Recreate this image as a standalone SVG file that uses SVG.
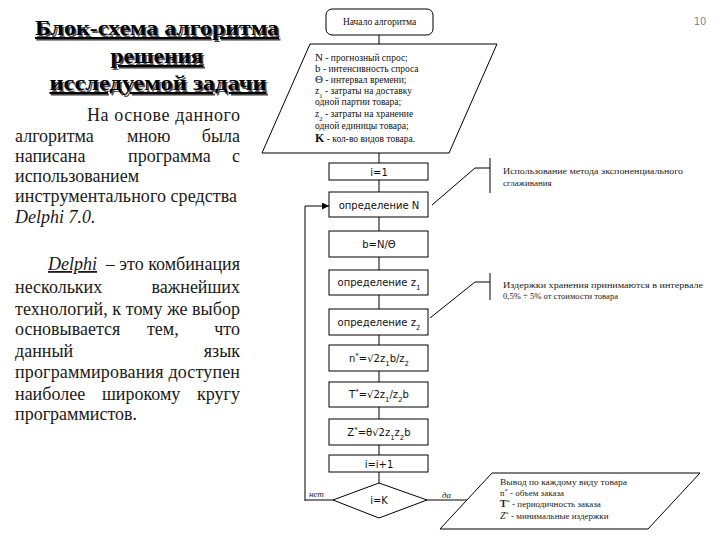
<svg xmlns="http://www.w3.org/2000/svg" width="720" height="540" viewBox="0 0 720 540">
<defs>
<marker id="arr" viewBox="0 0 10 10" refX="10" refY="5" markerWidth="7" markerHeight="7" markerUnits="userSpaceOnUse" orient="auto"><path d="M0,0 L10,5 L0,10 z" fill="#000"/></marker>
</defs>
<style>
.box{fill:#fff;stroke:#000;stroke-width:1}
.ln{fill:none;stroke:#000;stroke-width:1}
.t{font-family:'DejaVu Sans',sans-serif;font-size:10px;fill:#111;text-anchor:middle}
.s{font-size:9.5px;fill:#111}
.a{font-size:9px;fill:#222}
.body{font-size:18px;fill:#1a1a1a}
.ttl{font-size:21px;font-weight:bold;text-anchor:middle;text-decoration:underline}
.sub{font-size:70%}
</style>
<rect width="720" height="540" fill="#fff"/>

<g id="title" style="font-family:'Liberation Serif','Times New Roman',serif">
<g fill="#555" transform="translate(1.5,1.5)">
<text class="ttl" x="157" y="35" textLength="244" lengthAdjust="spacingAndGlyphs">Блок-схема алгоритма</text>
<text class="ttl" x="157" y="63" textLength="93" lengthAdjust="spacingAndGlyphs">решения</text>
<text class="ttl" x="158" y="90" textLength="217" lengthAdjust="spacingAndGlyphs">исследуемой задачи</text>
</g>
<g fill="#000">
<text class="ttl" x="157" y="35" textLength="244" lengthAdjust="spacingAndGlyphs">Блок-схема алгоритма</text>
<text class="ttl" x="157" y="63" textLength="93" lengthAdjust="spacingAndGlyphs">решения</text>
<text class="ttl" x="158" y="90" textLength="217" lengthAdjust="spacingAndGlyphs">исследуемой задачи</text>
</g>
</g>

<g id="para1" style="font-family:'Liberation Serif','Times New Roman',serif">
<text class="body" x="87" y="121" textLength="153" lengthAdjust="spacing">На основе данного</text>
<text class="body" x="15" y="142">алгоритма</text>
<text class="body" x="127" y="142">мною</text>
<text class="body" x="240" y="142" text-anchor="end">была</text>
<text class="body" x="15" y="162">написана</text>
<text class="body" x="128" y="162">программа</text>
<text class="body" x="240" y="162" text-anchor="end">с</text>
<text class="body" x="15" y="182">использованием</text>
<text class="body" x="15" y="202" textLength="222" lengthAdjust="spacing">инструментального средства</text>
<text class="body" x="15" y="223" font-style="italic">Delphi 7.0.</text>
</g>

<g id="para2" style="font-family:'Liberation Serif','Times New Roman',serif">
<text class="body" x="48" y="270" font-style="italic" text-decoration="underline">Delphi</text>
<text class="body" x="240" y="270" text-anchor="end">– это комбинация</text>
<text class="body" x="15" y="293">нескольких</text>
<text class="body" x="240" y="293" text-anchor="end">важнейших</text>
<text class="body" x="15" y="315" textLength="225" lengthAdjust="spacing">технологий, к тому же выбор</text>
<text class="body" x="15" y="335">основывается</text>
<text class="body" x="147" y="335">тем,</text>
<text class="body" x="240" y="335" text-anchor="end">что</text>
<text class="body" x="15" y="357">данный</text>
<text class="body" x="240" y="357" text-anchor="end">язык</text>
<text class="body" x="15" y="378" textLength="225" lengthAdjust="spacing">программирования доступен</text>
<text class="body" x="15" y="400">наиболее</text>
<text class="body" x="102" y="400">широкому</text>
<text class="body" x="240" y="400" text-anchor="end">кругу</text>
<text class="body" x="15" y="420">программистов.</text>
</g>

<g id="pagenum"><text x="700" y="25" font-family="'DejaVu Sans',sans-serif" font-size="10" fill="#888" text-anchor="middle">10</text></g>

<g id="connectors">
<line class="ln" x1="379" y1="35" x2="379" y2="44"/>
<line class="ln" x1="379" y1="153" x2="379" y2="163"/>
<line class="ln" x1="379" y1="180" x2="379" y2="192"/>
<line class="ln" x1="379" y1="217" x2="379" y2="231"/>
<line class="ln" x1="379" y1="257" x2="379" y2="270"/>
<line class="ln" x1="379" y1="295" x2="379" y2="309"/>
<line class="ln" x1="379" y1="335" x2="379" y2="345"/>
<line class="ln" x1="379" y1="371" x2="379" y2="382"/>
<line class="ln" x1="379" y1="407" x2="379" y2="419"/>
<line class="ln" x1="379" y1="445" x2="379" y2="455"/>
<line class="ln" x1="379" y1="472" x2="379" y2="483"/>
<path class="ln" d="M333,500 H305" stroke-width="2"/>
<path class="ln" d="M305,501 V206 H329" marker-end="url(#arr)"/>
<line class="ln" x1="427" y1="500" x2="467" y2="500"/>
<path class="ln" d="M432,205 L475,168 H490"/>
<line class="ln" x1="490" y1="158" x2="490" y2="193"/>
<path class="ln" d="M430,318 L475,282 H490"/>
<line class="ln" x1="490" y1="273" x2="490" y2="300"/>
</g>

<g id="start" style="font-family:'Liberation Serif','Times New Roman',serif">
<rect class="box" x="326" y="9" width="107" height="26" rx="6"/>
<text class="s" x="379.5" y="25" font-size="10.5" text-anchor="middle">Начало алгоритма</text>
</g>

<g id="input" style="font-family:'Liberation Serif','Times New Roman',serif">
<path class="box" d="M310,44 H497 L449,153 H262 Z"/>
<text class="s" x="315" y="61"><tspan font-size="11">N</tspan> - прогнозный спрос;</text>
<text class="s" x="315" y="72"><tspan font-size="11">b</tspan> - интенсивность спроса</text>
<text class="s" x="315" y="83"><tspan font-size="11">Θ</tspan> - интервал времени;</text>
<text class="s" x="315" y="94">z<tspan class="sub" baseline-shift="sub">1</tspan> - затраты на доставку</text>
<text class="s" x="315" y="105">одной партии товара;</text>
<text class="s" x="315" y="117">z<tspan class="sub" baseline-shift="sub">2</tspan> - затраты на хранение</text>
<text class="s" x="315" y="129">одной единицы товара;</text>
<text class="s" x="315" y="142"><tspan font-size="12" font-weight="bold">K</tspan> - кол-во видов товара.</text>
</g>

<g id="init"><rect class="box" x="329" y="163" width="99" height="17"/><text class="t" x="379" y="175.5">i=1</text></g>
<g id="defN"><rect class="box" x="329" y="192" width="99" height="25"/><text class="t" x="379" y="208.5">определение N</text></g>
<g id="calcB"><rect class="box" x="329" y="231" width="99" height="26"/><text class="t" x="379" y="247.5">b=N/Θ</text></g>
<g id="defZ1"><rect class="box" x="329" y="270" width="99" height="25"/><text class="t" x="379" y="286">определение z<tspan class="sub" baseline-shift="sub">1</tspan></text></g>
<g id="defZ2"><rect class="box" x="329" y="309" width="99" height="26"/><text class="t" x="379" y="326">определение z<tspan class="sub" baseline-shift="sub">2</tspan></text></g>
<g id="calcN"><rect class="box" x="329" y="345" width="99" height="26"/><text class="t" x="379" y="362">n<tspan class="sub" baseline-shift="super">*</tspan>=√2z<tspan class="sub" baseline-shift="sub">1</tspan>b/z<tspan class="sub" baseline-shift="sub">2</tspan></text></g>
<g id="calcT"><rect class="box" x="329" y="382" width="99" height="25"/><text class="t" x="379" y="398">T<tspan class="sub" baseline-shift="super">*</tspan>=√2z<tspan class="sub" baseline-shift="sub">1</tspan>/z<tspan class="sub" baseline-shift="sub">2</tspan>b</text></g>
<g id="calcZ"><rect class="box" x="329" y="419" width="99" height="26"/><text class="t" x="379" y="436">Z<tspan class="sub" baseline-shift="super">*</tspan>=θ√2z<tspan class="sub" baseline-shift="sub">1</tspan>z<tspan class="sub" baseline-shift="sub">2</tspan>b</text></g>
<g id="incr"><rect class="box" x="329" y="455" width="99" height="17"/><text class="t" x="379" y="467.5">i=i+1</text></g>

<g id="decision">
<path class="box" d="M379,483 L427,500 L379,518 L333,500 Z"/>
<text class="t" x="379" y="504">i=K</text>
<g style="font-family:'Liberation Serif','Times New Roman',serif">
<text class="a" x="309" y="497" font-style="italic" font-size="10">нет</text>
<text class="a" x="442" y="498" font-style="italic" font-size="12">да</text>
</g>
</g>

<g id="output" style="font-family:'Liberation Serif','Times New Roman',serif">
<path class="box" d="M492,473 H700 L648,529 H440 Z"/>
<text class="a" x="500" y="485" textLength="127" lengthAdjust="spacingAndGlyphs">Вывод по каждому виду товара</text>
<text class="a" x="500" y="496">n<tspan class="sub" baseline-shift="super">*</tspan> - объем заказа</text>
<text class="a" x="500" y="507"><tspan font-weight="bold" font-size="10">T</tspan><tspan class="sub" baseline-shift="super">*</tspan> - периодичность заказа</text>
<text class="a" x="500" y="519"><tspan font-style="italic" font-size="10">Z</tspan><tspan class="sub" baseline-shift="super">*</tspan> - минимальные издержки</text>
</g>

<g id="note1" style="font-family:'Liberation Serif','Times New Roman',serif">
<text class="a" x="503" y="174" textLength="180" lengthAdjust="spacingAndGlyphs">Использование метода экспоненциального</text>
<text class="a" x="503" y="186">сглаживания</text>
</g>
<g id="note2" style="font-family:'Liberation Serif','Times New Roman',serif">
<text class="a" x="503" y="288" textLength="200" lengthAdjust="spacingAndGlyphs">Издержки хранения принимаются в интервале</text>
<text class="a" x="503" y="299" textLength="115" lengthAdjust="spacingAndGlyphs">0,5% ÷ 5% от стоимости товара</text>
</g>
</svg>
